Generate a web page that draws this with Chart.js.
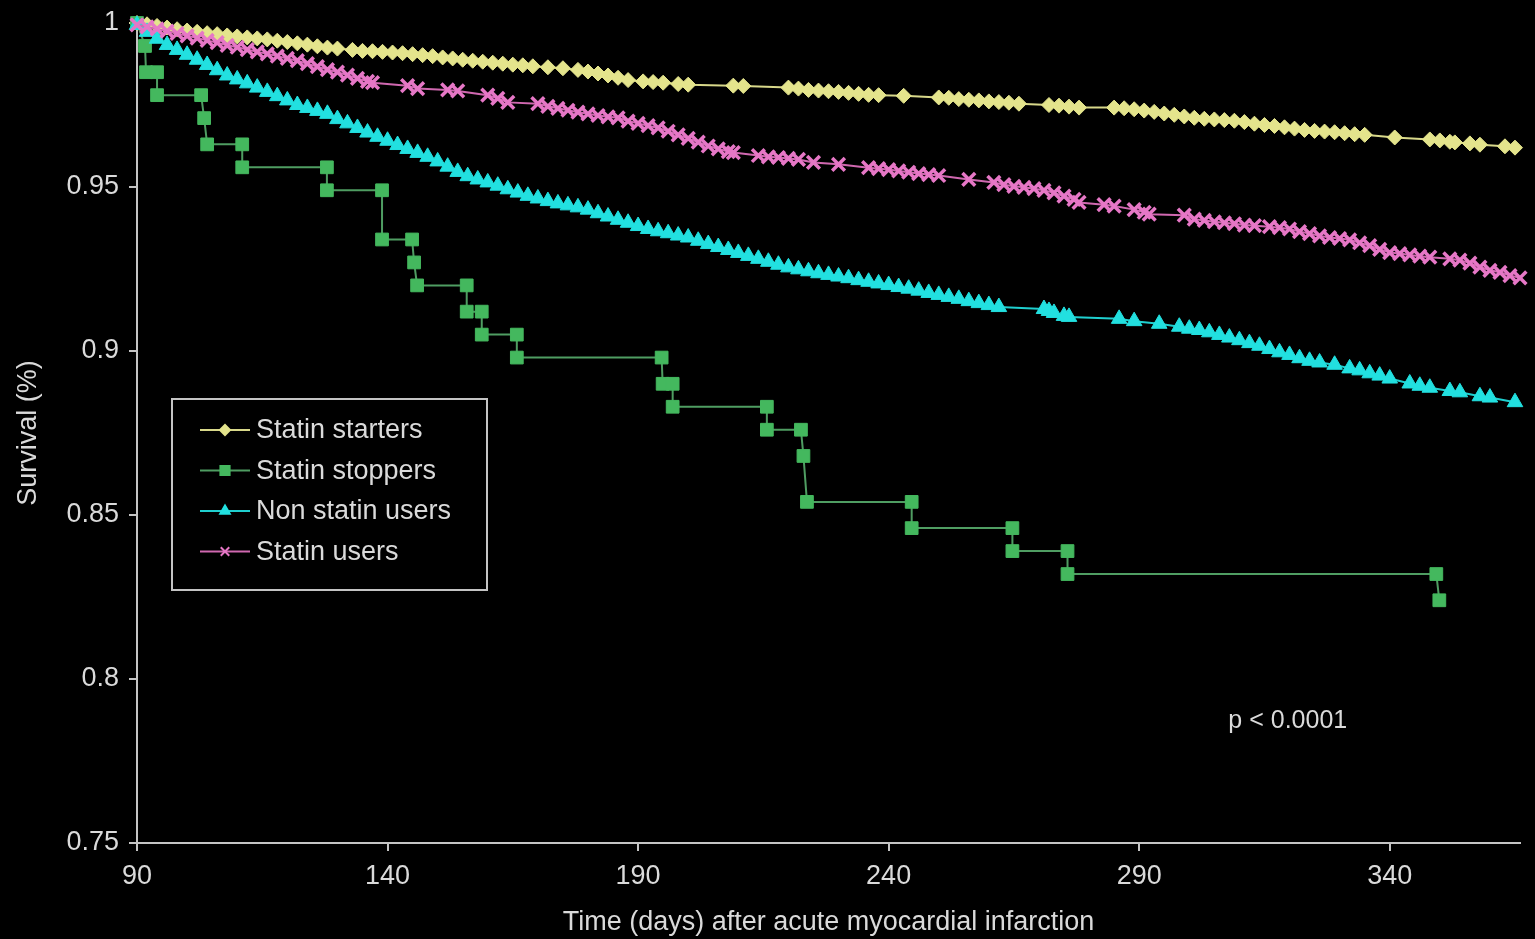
<!DOCTYPE html>
<html>
<head>
<meta charset="utf-8">
<title>Survival after acute myocardial infarction by statin use</title>
<script src="https://cdn.jsdelivr.net/npm/chart.js@4.4.1/dist/chart.umd.min.js"></script>
<style>
  html, body { margin: 0; padding: 0; background: #000; }
  canvas { display: block; }
</style>
</head>
<body>
<canvas id="km" width="1535" height="939"></canvas>
<script>
// Axis ticks
const xTicks = [90, 140, 190, 240, 290, 340];
const yTicks = [0.75, 0.8, 0.85, 0.9, 0.95, 1];

// Series names (legend order)
const seriesNames = ['Statin starters', 'Statin stoppers', 'Non statin users', 'Statin users'];

// Statin starters: day / survival
const startersDays = [90,92,94,96,98,100,102,104,106,108,110,112,114,116,118,120,122,124,126,128,130,133,135,137,
  139,141,143,145,147,149,151,153,155,157,159,161,163,165,167,169,172,175,178,180,182,184,186,188,191,193,195,198,200,
  209,211,220,222,224,226,228,230,232,234,236,238,243,250,252,254,256,258,260,262,264,266,272,274,276,278,
  285,287,289,291,293,295,297,299,301,303,305,307,309,311,313,315,317,319,321,323,325,327,329,331,333,335,
  341,348,350,352,353,356,358,363,365];
const startersSurv = [1.0000,0.9996,0.9991,0.9986,0.9981,0.9977,0.9973,0.9969,0.9966,0.9962,0.9959,0.9956,0.9953,0.9950,
  0.9946,0.9942,0.9938,0.9934,0.9929,0.9925,0.9922,0.9918,0.9915,0.9914,
  0.9912,0.9910,0.9908,0.9905,0.9902,0.9899,0.9895,0.9892,0.9888,0.9885,0.9882,0.9879,0.9876,0.9873,0.9871,0.9868,
  0.9865,0.9862,0.9857,0.9852,0.9846,0.9840,0.9833,0.9826,0.9822,0.9820,0.9818,0.9814,0.9812,
  0.9809,0.9808,0.9803,0.9800,0.9796,0.9794,0.9792,0.9790,0.9787,0.9784,0.9781,0.9780,0.9778,
  0.9773,0.9772,0.9768,0.9766,0.9764,0.9761,0.9759,0.9757,0.9754,0.9750,0.9748,0.9745,0.9742,
  0.9742,0.9740,0.9737,0.9733,0.9729,0.9724,0.9720,0.9715,0.9711,0.9708,0.9706,0.9704,0.9702,0.9698,0.9693,0.9689,
  0.9686,0.9682,0.9678,0.9674,0.9671,0.9669,0.9667,0.9664,0.9661,0.9659,
  0.9651,0.9645,0.9642,0.9638,0.9636,0.9633,0.9629,0.9624,0.9620];

// Statin stoppers: step corners of the Kaplan-Meier curve
const stoppersDays = [90,91.6,91.8,94.0,94.0,102.8,103.4,104.0,111.0,111.0,127.9,127.9,138.9,138.9,144.9,145.3,145.9,
  155.8,155.8,158.8,158.8,165.8,165.8,194.7,194.9,196.9,196.9,215.7,215.7,222.5,223.0,223.7,244.6,244.6,
  264.7,264.7,275.7,275.7,349.3,349.9];
const stoppersSurv = [1.000,0.993,0.985,0.985,0.978,0.978,0.971,0.963,0.963,0.956,0.956,0.949,0.949,0.934,0.934,0.927,0.920,
  0.920,0.912,0.912,0.905,0.905,0.898,0.898,0.890,0.890,0.883,0.883,0.876,0.876,0.868,0.854,0.854,0.846,
  0.846,0.839,0.839,0.832,0.832,0.824];

// Non statin users: day / survival
const nonUsersDays = [90,92,94,96,98,100,102,104,106,108,110,112,114,116,118,120,122,124,126,128,
  130,132,134,136,138,140,142,144,146,148,150,152,154,156,158,160,162,164,166,168,
  170,172,174,176,178,180,182,184,186,188,190,192,194,196,198,200,202,204,206,208,
  210,212,214,216,218,220,222,224,226,228,230,232,234,236,238,240,242,244,246,248,
  250,252,254,256,258,260,262,
  271,272,273,275,276,286,289,294,298,300,302,304,306,308,310,312,314,316,318,320,322,324,326,
  329,332,334,336,338,340,344,346,348,352,354,358,360,365];
const nonUsersSurv = [0.9994,0.9973,0.9952,0.9933,0.9918,0.9903,0.9888,0.9872,0.9856,0.9840,
  0.9828,0.9816,0.9803,0.9790,0.9777,0.9764,0.9750,0.9741,0.9732,0.9723,
  0.9707,0.9694,0.9680,0.9666,0.9653,0.9641,0.9628,0.9616,0.9604,0.9592,
  0.9578,0.9562,0.9546,0.9533,0.9523,0.9514,0.9504,0.9493,0.9483,0.9473,
  0.9465,0.9457,0.9450,0.9444,0.9438,0.9431,0.9420,0.9410,0.9400,0.9391,
  0.9381,0.9372,0.9365,0.9359,0.9352,0.9346,0.9336,0.9326,0.9317,0.9308,
  0.9299,0.9290,0.9281,0.9272,0.9263,0.9255,0.9249,0.9243,0.9237,0.9232,
  0.9227,0.9222,0.9216,0.9211,0.9206,0.9201,0.9195,0.9190,0.9184,0.9177,
  0.9171,0.9165,0.9159,0.9152,0.9146,0.9140,0.9134,
  0.9128,0.9122,0.9116,0.9107,0.9104,0.9098,0.9091,0.9083,0.9074,0.9068,0.9064,0.9057,0.9049,0.9041,
  0.9033,0.9024,0.9016,0.9006,0.8996,0.8988,0.8978,0.8970,0.8965,
  0.8958,0.8947,0.8941,0.8932,0.8925,0.8916,0.8901,0.8894,0.8888,0.8878,0.8874,0.8862,0.8858,0.8844];

// Statin users: day / survival
const usersDays = [90,92,94,96,98,100,102,104,106,108,110,112,114,116,118,120,122,124,126,128,130,132,134,136,137,
  144,146,152,154,160,162,164,
  170,172,174,176,178,180,182,184,186,188,190,192,194,196,198,200,202,204,206,208,209,
  214,216,218,220,222,225,230,236,238,240,242,244,246,248,250,256,
  261,263,265,267,269,271,273,275,277,278,283,285,289,291,292,
  299,301,303,305,307,309,311,313,316,318,320,322,324,326,328,330,332,334,336,338,340,342,344,346,348,
  352,354,356,358,360,362,364,366];
const usersSurv = [0.9994,0.9988,0.9982,0.9975,0.9968,0.9961,0.9954,0.9947,0.9940,0.9932,
  0.9926,0.9919,0.9912,0.9906,0.9899,0.9892,0.9885,0.9876,0.9867,0.9858,0.9850,0.9841,0.9831,0.9822,0.9818,
  0.9809,0.9800,0.9796,0.9793,0.9780,0.9770,0.9758,
  0.9754,0.9746,0.9740,0.9734,0.9728,0.9723,0.9718,0.9714,0.9711,0.9701,0.9694,0.9687,0.9680,0.9670,0.9659,
  0.9648,0.9637,0.9625,0.9616,0.9608,0.9605,
  0.9596,0.9592,0.9590,0.9587,0.9584,0.9575,0.9569,0.9559,0.9556,0.9553,0.9549,0.9545,0.9541,0.9538,0.9535,0.9523,
  0.9514,0.9507,0.9502,0.9499,0.9495,0.9490,0.9482,0.9472,0.9462,0.9453,0.9446,0.9442,0.9431,0.9423,0.9417,
  0.9414,0.9402,0.9398,0.9394,0.9391,0.9388,0.9384,0.9382,0.9379,0.9376,0.9372,0.9364,0.9358,0.9351,0.9346,
  0.9343,0.9339,0.9330,0.9321,0.9310,0.9300,0.9297,0.9293,0.9289,0.9286,
  0.9281,0.9277,0.9268,0.9256,0.9246,0.9240,0.9230,0.9223];

const pValueText = 'p < 0.0001';

// ---- styling ----
const FONT = '"Liberation Sans", Arial, Helvetica, sans-serif';
const AXIS = '#c4c4c4';
const TEXT = '#dadada';

const seriesStyles = [
  { line: '#d8d88a', fill: '#e4e48c', style: 'rectRot', radius: 7.5, legendRadius: 5,   order: 4 },
  { line: '#4f9d62', fill: '#44b85e', style: 'rect',    radius: 9,   legendRadius: 6.5, order: 3 },
  { line: '#1fcfcf', fill: '#22e0e0', style: 'triangle',radius: 9,   legendRadius: 5.5, order: 2 },
  { line: '#d068b0', fill: '#e677c6', style: 'crossRot',radius: 9,   legendRadius: 6,   order: 1 }
];
const seriesData = [
  [startersDays, startersSurv],
  [stoppersDays, stoppersSurv],
  [nonUsersDays, nonUsersSurv],
  [usersDays, usersSurv]
];

function toPoints(days, surv) {
  const n = Math.min(days.length, surv.length);
  const pts = [];
  for (let i = 0; i < n; i++) pts.push({ x: days[i], y: surv[i] });
  return pts;
}

const datasets = seriesNames.map((name, i) => {
  const st = seriesStyles[i];
  return {
    label: name,
    data: toPoints(seriesData[i][0], seriesData[i][1]),
    borderColor: st.line,
    backgroundColor: st.fill,
    borderWidth: 2,
    pointStyle: st.style,
    pointRadius: st.radius,
    pointBackgroundColor: st.fill,
    pointBorderColor: st.fill,
    pointBorderWidth: st.style === 'crossRot' ? 3.5 : 1,
    tension: 0,
    clip: false,
    order: st.order
  };
});

// Boxed legend inside the plot area
const legendBox = {
  id: 'legendBox',
  afterDraw(chart) {
    const ctx = chart.ctx;
    const ca = chart.chartArea;
    const x0 = ca.left + 35, y0 = 399, w = 315, h = 191;
    ctx.save();
    ctx.fillStyle = '#000';
    ctx.fillRect(x0, y0, w, h);
    ctx.strokeStyle = AXIS;
    ctx.lineWidth = 2;
    ctx.strokeRect(x0, y0, w, h);
    ctx.font = '27px ' + FONT;
    ctx.textBaseline = 'middle';
    ctx.textAlign = 'left';
    seriesNames.forEach((name, i) => {
      const st = seriesStyles[i];
      const cy = y0 + 31 + i * 40.5;
      ctx.strokeStyle = st.line;
      ctx.lineWidth = 2;
      ctx.beginPath();
      ctx.moveTo(x0 + 28, cy);
      ctx.lineTo(x0 + 78, cy);
      ctx.stroke();
      ctx.fillStyle = st.fill;
      ctx.strokeStyle = st.fill;
      Chart.helpers.drawPoint(ctx, {
        pointStyle: st.style, radius: st.legendRadius, rotation: 0,
        borderWidth: st.style === 'crossRot' ? 2.5 : 1
      }, x0 + 53, cy);
      ctx.fillStyle = TEXT;
      ctx.fillText(name, x0 + 84, cy + 1);
    });
    ctx.restore();
  }
};

// p-value note placed in data coordinates
const pValueNote = {
  id: 'pValueNote',
  afterDraw(chart) {
    const ctx = chart.ctx;
    const xs = chart.scales.x, ys = chart.scales.y;
    ctx.save();
    ctx.font = '25px ' + FONT;
    ctx.fillStyle = TEXT;
    ctx.textAlign = 'left';
    ctx.textBaseline = 'middle';
    ctx.fillText(pValueText, xs.getPixelForValue(307.8), ys.getPixelForValue(0.7873));
    ctx.restore();
  }
};

new Chart(document.getElementById('km').getContext('2d'), {
  type: 'line',
  data: { datasets },
  options: {
    responsive: false,
    animation: false,
    devicePixelRatio: 1,
    layout: { padding: { top: 23, right: 15, left: 0, bottom: 0 } },
    plugins: { legend: { display: false }, tooltip: { enabled: false } },
    scales: {
      x: {
        type: 'linear',
        min: 90,
        max: 366,
        afterBuildTicks: (s) => { s.ticks = xTicks.map(v => ({ value: v })); },
        afterFit: (s) => { s.height = 96; s.paddingLeft = 0; s.paddingRight = 0; },
        grid: { drawOnChartArea: false, drawTicks: true, tickLength: 8, color: AXIS, lineWidth: 2 },
        border: { display: true, color: AXIS, width: 2 },
        ticks: { color: TEXT, font: { family: FONT, size: 27 }, padding: 9, maxRotation: 0, autoSkip: false },
        title: {
          display: true,
          text: 'Time (days) after acute myocardial infarction',
          color: TEXT,
          font: { family: FONT, size: 27 },
          padding: { top: 0, bottom: 0 }
        }
      },
      y: {
        type: 'linear',
        min: 0.75,
        max: 1,
        afterBuildTicks: (s) => { s.ticks = yTicks.map(v => ({ value: v })); },
        afterFit: (s) => { s.width = 137; s.paddingTop = 0; s.paddingBottom = 0; },
        grid: { drawOnChartArea: false, drawTicks: true, tickLength: 8, color: AXIS, lineWidth: 2 },
        border: { display: true, color: AXIS, width: 2 },
        ticks: {
          color: TEXT,
          font: { family: FONT, size: 27 },
          padding: 10,
          callback: (v) => String(parseFloat(Number(v).toFixed(2)))
        },
        title: {
          display: true,
          text: 'Survival (%)',
          color: TEXT,
          font: { family: FONT, size: 27 },
          padding: { top: 12, bottom: 0 }
        }
      }
    }
  },
  plugins: [legendBox, pValueNote]
});
</script>
</body>
</html>
